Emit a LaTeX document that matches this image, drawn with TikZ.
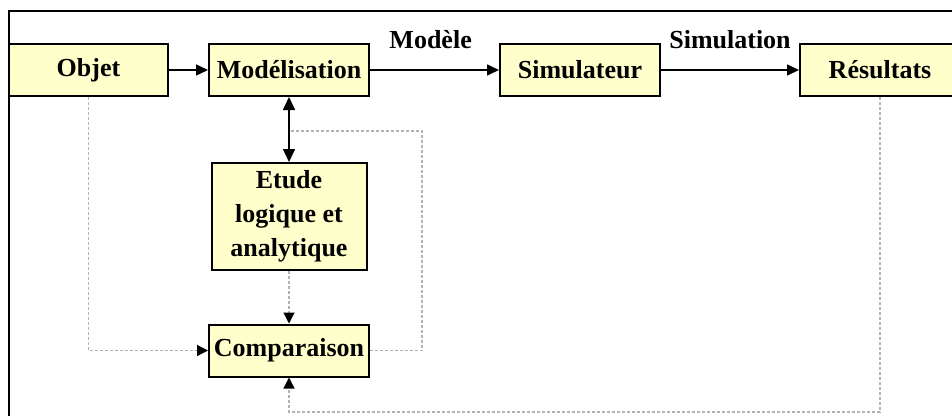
\documentclass[tikz,border=0pt]{standalone}
\usepackage{fontspec}
\setmainfont{Liberation Serif}
\usepackage{tikz}
\usetikzlibrary{arrows.meta, positioning}
\definecolor{paleyellow}{HTML}{FFFFCC}

\begin{document}
\begin{tikzpicture}[x=1pt,y=-1pt,node distance=3cm,on grid,auto,
    font=\fontsize{26}{34}\selectfont\bfseries]
    \tikzstyle{block}=[shape=rectangle,draw,line width=2pt,fill=paleyellow,minimum width=160pt,minimum height=52pt,inner sep=0pt]
    \tikzstyle{tag}=[inner sep=0pt]
    \tikzstyle{link}=[draw,line width=1.6pt,-{Triangle[length=12pt,width=11pt]}]
    \tikzstyle{back}=[draw,black!30,line width=1.2pt,densely dashed,-{Triangle[length=11pt,width=11pt,color=black]}]

    \useasboundingbox (0,0) rectangle (952,415);
    \clip (0,0) rectangle (952,415);
    \draw[line width=2pt] (9,11) rectangle (1000,480);

    \node[block, minimum width=159pt] (Obj) at (88.5,70) {Objet};
    \node[block, right=200.5pt of Obj] (Mod) {Modélisation};
    \node[block, right=291pt of Mod] (Sim) {Simulateur};
    \node[block, right=300pt of Sim] (Res) {Résultats};
    \node[block, below=146.5pt of Mod, minimum width=155pt, minimum height=107pt, align=center] (Etu) {Etude\\logique et\\analytique};
    \node[block, below=280.5pt of Mod] (Cmp) {Comparaison};
    \coordinate (J) at (422,131);
    \coordinate (B) at (882,412);

    \path[link]
    (Obj) edge (Mod)
    (Mod) edge node[tag, above=20pt, pos=0.47] {Modèle} (Sim)
    (Sim) edge node[tag, above=20pt, pos=0.5] {Simulation} (Res)
    ;
    \draw[line width=1.6pt, {Triangle[length=13pt,width=12pt]}-{Triangle[length=13pt,width=12pt]}] (Mod) -- (Etu);

    \draw[back] (Etu) -- (Cmp);
    \draw[back] (Obj.south) |- (Cmp.west);
    \draw[back, -] (Cmp.east) -| (J) -- (J -| Mod.south);
    \draw[back] (Res.south |- Res.south) -- (Res.south |- B) -| (Cmp.south);
\end{tikzpicture}
\end{document}
